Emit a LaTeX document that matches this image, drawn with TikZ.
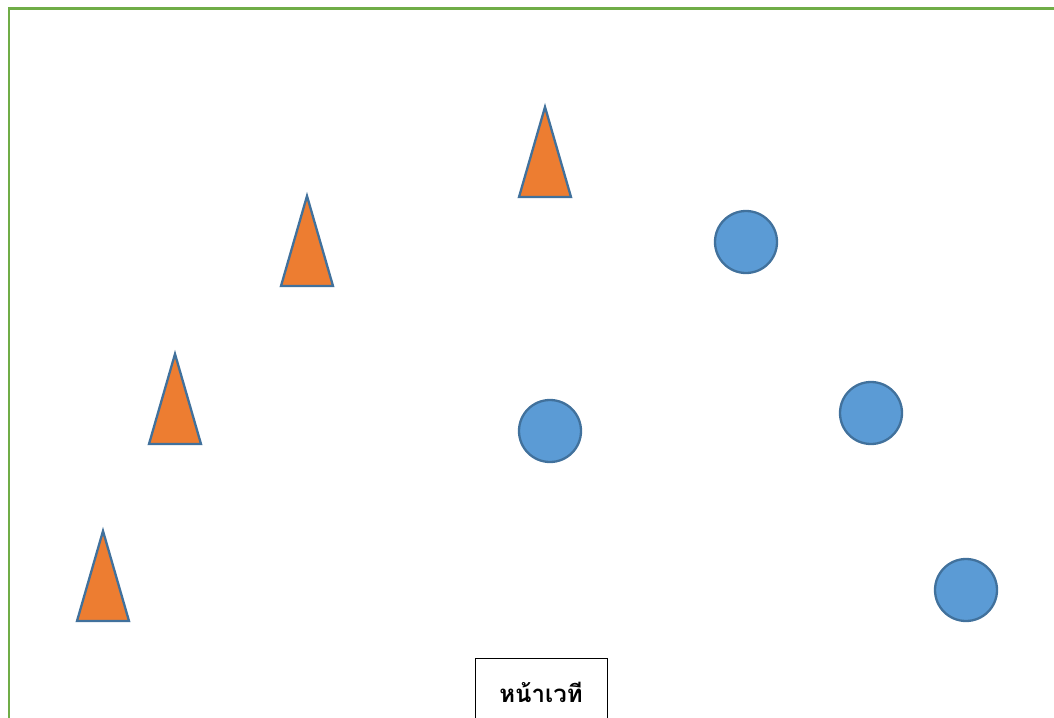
\documentclass[tikz,border=0pt]{standalone}
\usepackage{fontspec}
\newfontfamily\thaifont[Script=Thai]{Loma}
\usetikzlibrary{positioning}
\definecolor{stagegreen}{HTML}{70AD47}
\definecolor{coneorange}{HTML}{ED7D31}
\definecolor{ballblue}{HTML}{5B9BD5}
\definecolor{edgeblue}{HTML}{41719C}

\begin{document}
\begin{tikzpicture}[
    x=1pt, y=-1pt,
    frame/.style={draw=stagegreen, line width=2.5pt},
    cone/.style={draw=edgeblue, fill=coneorange, line width=2.3pt, line join=miter},
    ball/.style={circle, draw=edgeblue, fill=ballblue, line width=2.3pt, minimum size=62pt, inner sep=0pt},
    stagebox/.style={draw=black, line width=0.9pt, minimum width=132pt, minimum height=68pt, font=\thaifont\bfseries\fontsize{24}{28}\selectfont}
]
\useasboundingbox (0,0) rectangle (1054,717);
\clip (0,0) rectangle (1054,717);

% stage area
\draw[frame] (9,730) |- (1070,8.5);

% cones
\foreach \x/\y/\name in {545/107/coneA, 307/196/coneB, 175/354/coneC, 103/531/coneD}{
  \coordinate (\name) at (\x,\y);
  \draw[cone] (\name) -- ++(26,90) -- ++(-52,0) -- cycle;
}

% balls
\node[ball] (ballA) at (746,242) {};
\node[ball] (ballB) at (550,431) {};
\node[ball] (ballC) at (871,413) {};
\node[ball] (ballD) at (966,590) {};

% stage front
\node[stagebox] (front) at (541,692) {หน้าเวที};

\end{tikzpicture}
\end{document}
